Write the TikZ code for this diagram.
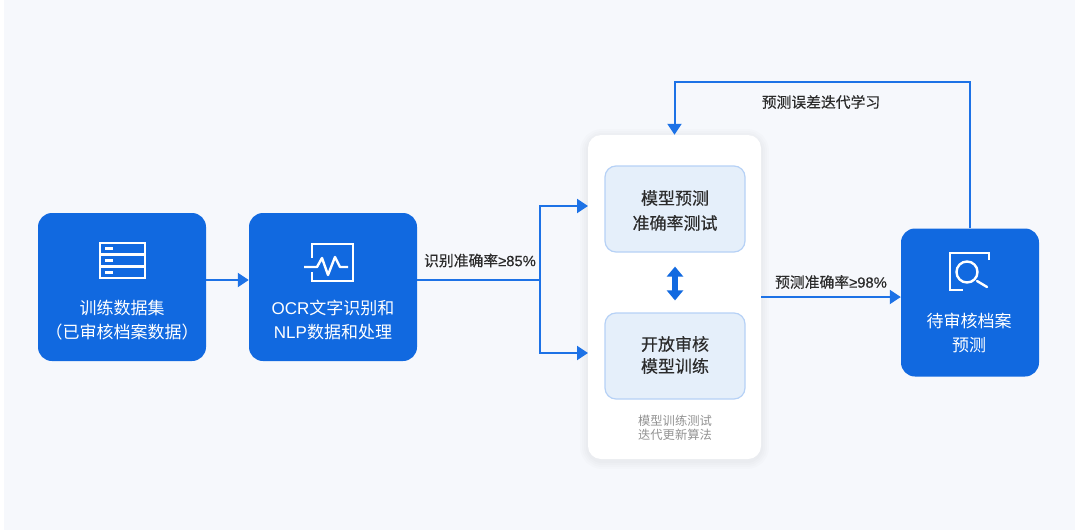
\documentclass[tikz,border=0pt]{standalone}
\usepackage{fontspec}
\setmainfont{Liberation Sans}
\newfontfamily\cjk{Noto Sans CJK SC}
\newfontfamily\cjkmid[FakeBold=0.35]{Noto Sans CJK SC}
\newfontfamily\latmid[FakeBold=0.35]{Liberation Sans}
\usetikzlibrary{calc, positioning, arrows.meta}
\definecolor{boxblue}{HTML}{1169E0}
\definecolor{lineblue}{HTML}{1D72E6}
\definecolor{pagebg}{HTML}{F6F8FC}
\definecolor{innerfill}{HTML}{E5EFFA}
\definecolor{innerline}{HTML}{B6D1F6}
\definecolor{textdark}{HTML}{2B2B2B}
\tikzset{
	bluebox/.style={draw=none,fill=boxblue,rounded corners=14pt,minimum height=148pt},
	innerbox/.style={draw=innerline,line width=1.2pt,fill=innerfill,rounded corners=11pt,minimum width=140pt,minimum height=86pt},
	whitetext/.style={text=white,align=center,font=\fontsize{17pt}{24pt}\selectfont\cjk},
	darktext/.style={text=textdark,align=center,font=\fontsize{17pt}{25pt}\selectfont\cjkmid},
	edgetext/.style={text=textdark,font=\fontsize{14.8pt}{17pt}\selectfont\cjkmid},
	flow/.style={draw=lineblue,line width=2pt,-{Triangle[length=11pt,width=14pt]}},
	flowplain/.style={draw=lineblue,line width=2pt},
	iconline/.style={draw=white,line width=2.4pt}
}
\begin{document}
\begin{tikzpicture}[x=1pt,y=-1pt]
	\useasboundingbox (0,0) rectangle (1080,530);
	\fill[pagebg] (4,0) rectangle (1075,530);

	% boxes
	\node[bluebox,minimum width=168pt] (data) at (122,287) {};
	\node[bluebox,minimum width=168pt] (ocr) at (333,287) {};
	\node[bluebox,minimum width=138pt] (review) at (970,302.5) {};
	% soft shadow of the panel
	\foreach \w in {16,12,8,4}
		\draw[black,opacity=0.012,line width=\w pt,rounded corners=14pt] (588,137) rectangle (761,461);
	\node[draw=none,fill=white,rounded corners=13pt,minimum width=173pt,minimum height=324pt] (panel) at (674.5,297) {};
	\node[innerbox] (predict) at (675,209) {};
	\node[innerbox] (train) at (675,356) {};

	% texts
	\node[whitetext] (datatext) at (122,320) {训练数据集\\（已审核档案数据）};
	\node[whitetext] (ocrtext) at (333,320) {{\fontspec{Liberation Sans}OCR}文字识别和\\{\fontspec{Liberation Sans}NLP}数据和处理};
	\node[whitetext] (reviewtext) at (969,333) {待审核档案\\预测};
	\node[darktext] (predicttext) at (675,210.5) {模型预测\\准确率测试};
	\node[darktext,font=\fontsize{17pt}{22pt}\selectfont\cjkmid] (traintext) at (675,355) {开放审核\\模型训练};
	\node[text=gray!85,align=center,font=\fontsize{12.3pt}{14pt}\selectfont\cjk] (paneltext) at (675,428) {模型训练测试\\迭代更新算法};

	% icons
	\draw[iconline] (100,243) rectangle (145,278);
	\draw[iconline] (100,254.5) -- (145,254.5) (100,266.5) -- (145,266.5);
	\foreach \y in {248.7,260.7,272.5}
		\draw[iconline,line width=3pt] (105,\y) -- (113,\y);
	\draw[iconline] (312,258) |- (353,244) |- (312,281) -- (312,272);
	\draw[iconline,line join=round] (304,267) -- (317,267) -- (322,258) -- (328,275) -- (335,257) -- (340,267) -- (348,267);
	\draw[iconline] (989,260) |- (950,253) |- (963,290);
	\draw[iconline] (967,272) circle (10.5);
	\draw[iconline,line cap=round] (977,281) -- (987,287);

	% connectors
	\coordinate (split) at (540,280);
	\coordinate (predictin) at (588,206);
	\coordinate (trainin) at (588,353);
	\coordinate (looptop) at (970,82);
	\draw[flow] ([yshift=7pt]data.east) -- ([yshift=7pt]ocr.west);
	\draw[flowplain] ([yshift=7pt]ocr.east) -- (split);
	\draw[flow] (split) |- (predictin);
	\draw[flow] (split) |- (trainin);
	\draw[flow] (panel.east) -- (panel.east -| review.west);
	\draw[flow] (review.north) -- (looptop) -| (panel.north);
	\draw[draw=boxblue,line width=6pt,{Triangle[length=10pt,width=16pt]}-{Triangle[length=10pt,width=16pt]},shorten <=14pt,shorten >=12pt] (predict.south) -- (train.north);

	% connector labels
	\node[edgetext] (ratelow) at (480,260.5) {识别准确率{\latmid ≥85\%}};
	\node[edgetext] (ratehigh) at (831,282) {预测准确率{\latmid ≥98\%}};
	\node[edgetext] (looptext) at (821,102) {预测误差迭代学习};
\end{tikzpicture}
\end{document}
